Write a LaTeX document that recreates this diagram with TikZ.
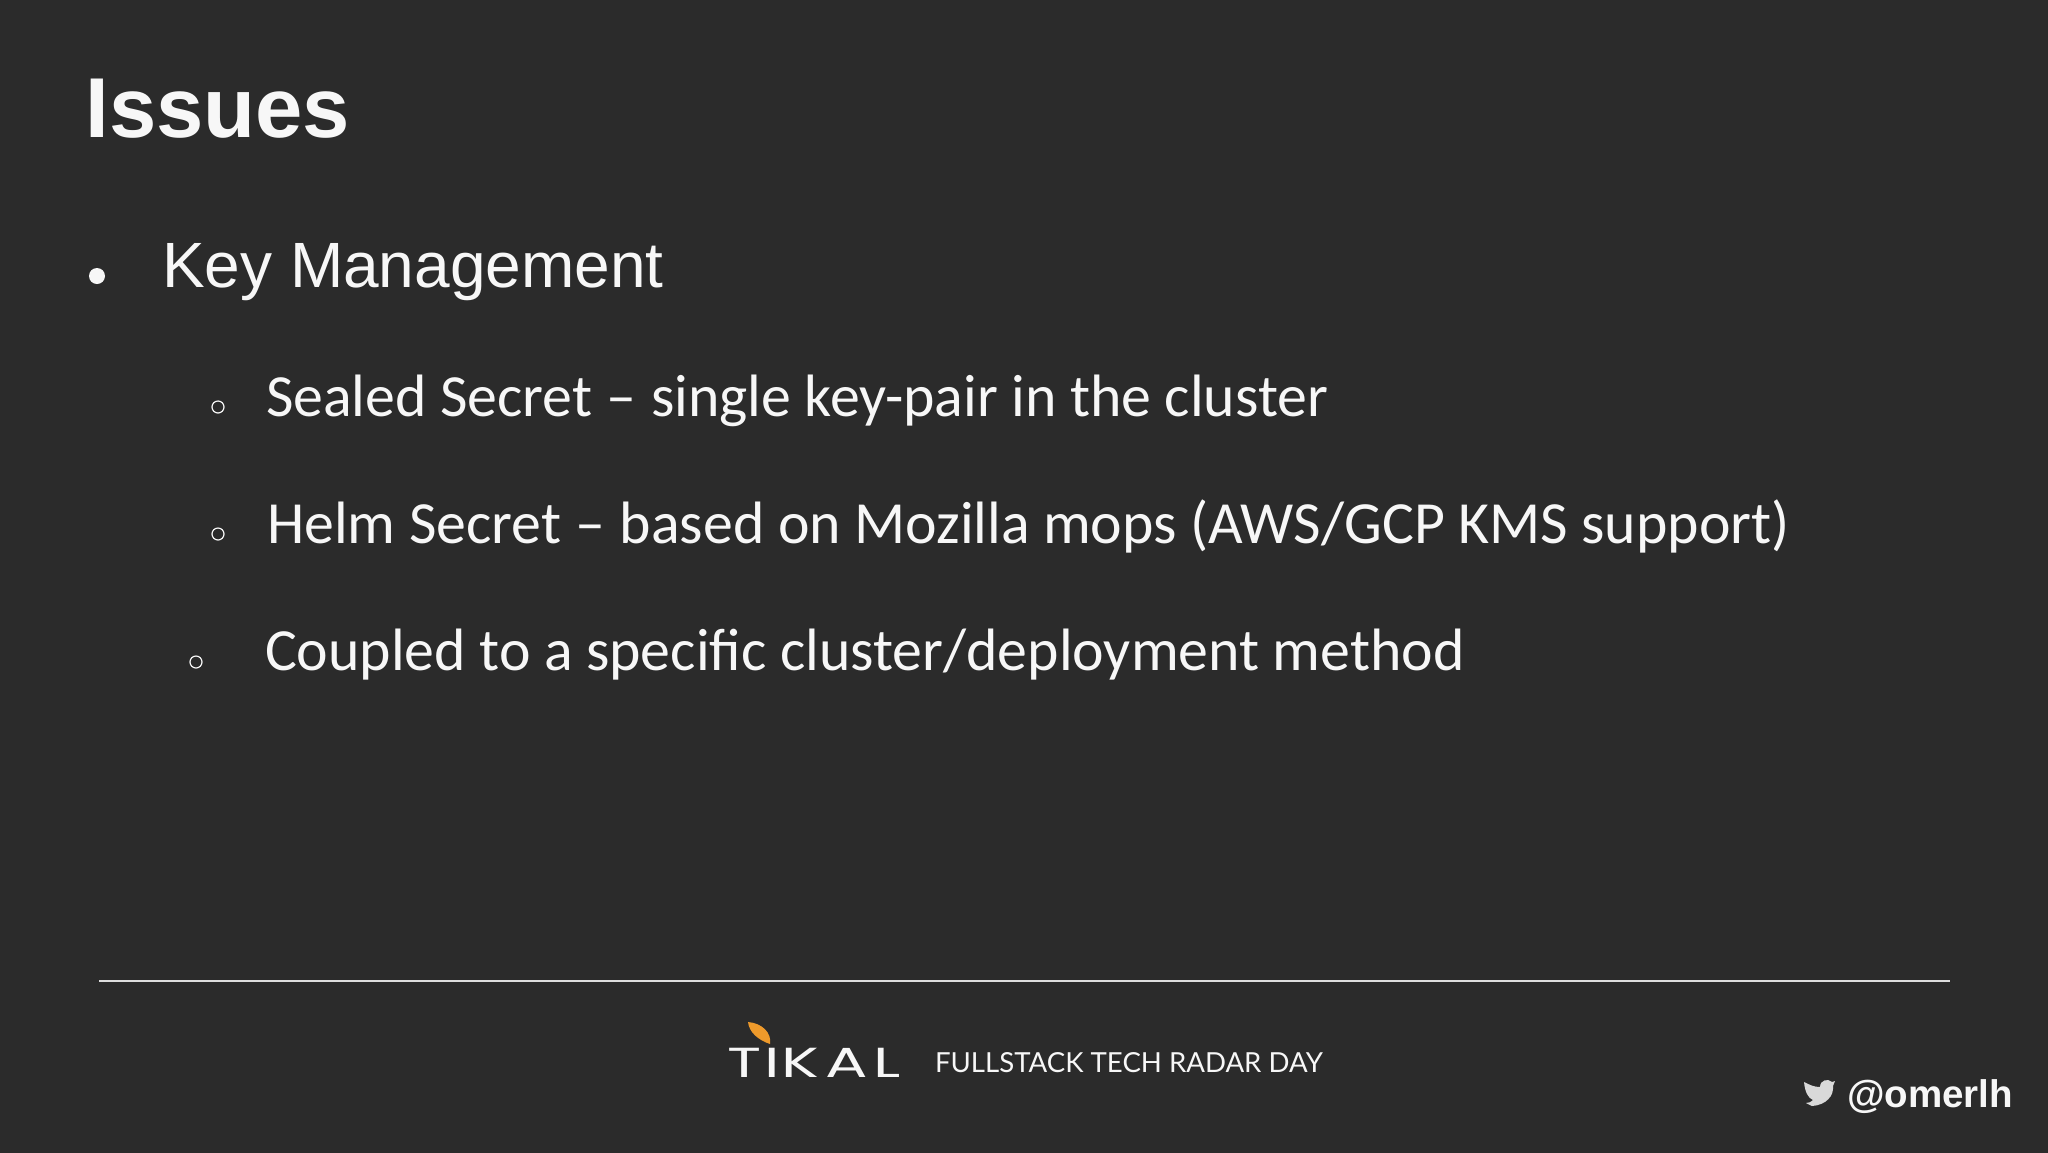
\documentclass[tikz,border=0pt]{standalone}
\usepackage{graphicx}
\usepackage{fontspec}
\setmainfont{Liberation Sans}
\newfontfamily\bodyfont{Carlito}
\newfontfamily\footfont{Lato}
\newfontfamily\logofont{Poppins}
\definecolor{slidebg}{HTML}{2B2B2B}
\definecolor{ink}{HTML}{F7F7F7}
\definecolor{leaf}{HTML}{EE9A2B}
\newcommand{\wdash}{\kern0.5pt–\kern0.5pt}
\tikzset{
  txt/.style={anchor=base west,inner sep=0pt,outer sep=0pt,text=ink},
  titletxt/.style={txt,font=\fontsize{42.5}{50}\selectfont\bfseries},
  maintxt/.style={txt,font=\fontsize{32}{38}\selectfont},
  subtxt/.style={txt,font=\bodyfont\fontsize{29.9}{35}\selectfont},
  hollow/.style={draw=ink,line width=0.6pt,circle},
}
\begin{document}
\begin{tikzpicture}[x=0.5pt,y=-0.5pt]
\useasboundingbox (0,0) rectangle (2048,1152);
\fill[slidebg] (-4,-4) rectangle (2052,1156);
\node[titletxt] (title) at (85.5,137) {Issues};
\fill[ink] (97,276) circle (8);
\node[maintxt] (key) at (162,287.5) {Key Management};
\draw[hollow] (218,407) circle (6);
\node[subtxt] (sealed) at (266,416) {Sealed Secret \wdash{} single key-pair in the cluster};
\draw[hollow] (218,534) circle (6);
\node[subtxt] (helm) at (267,543) {Helm Secret \wdash{} based on Mozilla mops (AWS/GCP KMS support)};
\draw[hollow] (196,662) circle (6);
\node[subtxt] (coupled) at (265,670) {Coupled to a specific cluster/deployment method};
\draw[ink!90!black,line width=1.3pt] (99,981) -- (1950,981);
% logo
\fill[leaf] (748,1022) .. controls (762,1023) and (772,1033) .. (770,1044) .. controls (758,1040) and (749,1032) .. (748,1022) -- cycle;
\node[txt,font=\logofont\fontsize{21}{26}\selectfont] (tikal) at (727,1077) {\scalebox{1.5}[1]{T\kern1pt I\kern0.7pt K\kern2.2pt A\kern1.7pt L}};
\node[txt,font=\footfont\fontsize{13.8}{16}\selectfont] (radar) at (935,1072) {FULLSTACK TECH RADAR DAY};
% bird
\fill[ink!88!black] (1804,1082) .. controls (1810,1085) and (1814,1087) .. (1820,1087) .. controls (1820,1080) and (1828,1078) .. (1832,1082) -- (1835,1081) -- (1833,1086) .. controls (1834,1096) and (1826,1105) .. (1812,1106) -- (1806,1103) .. controls (1809,1103) and (1811,1102) .. (1813,1100) .. controls (1808,1098) and (1805,1092) .. (1804,1082) -- cycle;
\node[txt,font=\fontsize{19.25}{24}\selectfont\bfseries] (handle) at (1847,1107) {@omerlh};
\end{tikzpicture}
\end{document}
